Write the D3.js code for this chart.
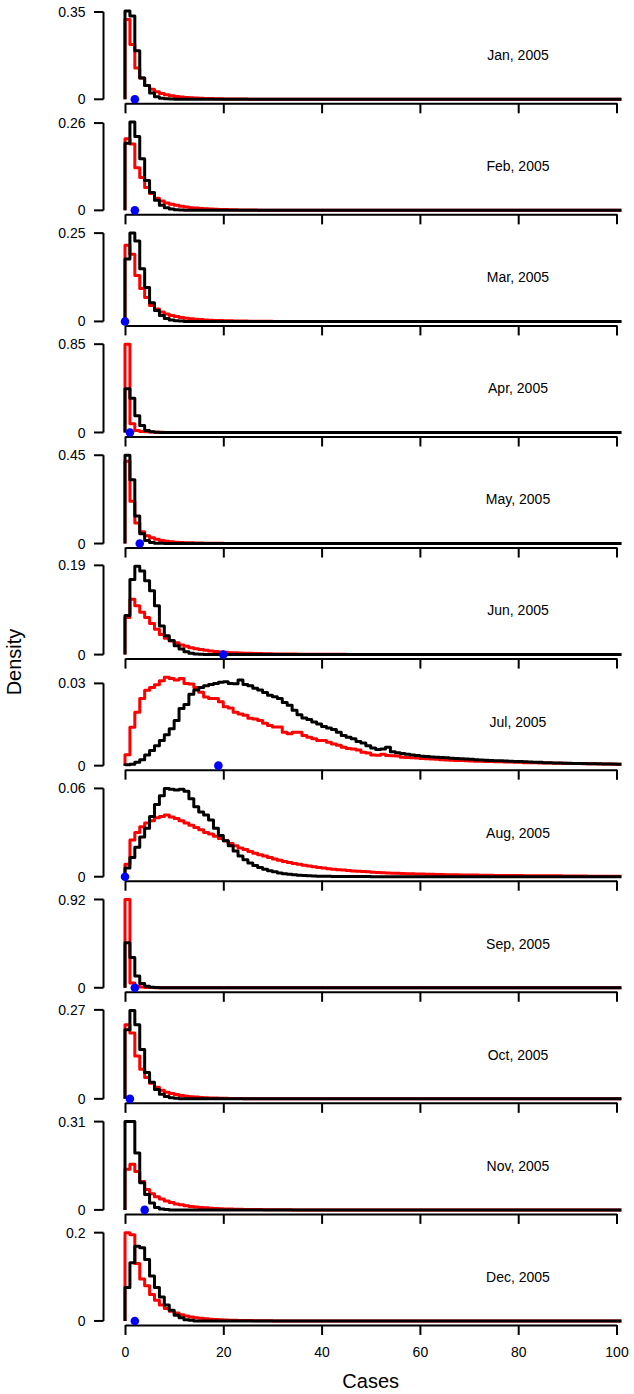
<!DOCTYPE html>
<html>
<head>
<meta charset="utf-8">
<script src="https://cdnjs.cloudflare.com/ajax/libs/d3/7.8.5/d3.min.js"></script>
<style>
  body { margin: 0; background: #fff; }
  svg text { font-family: "Liberation Sans", Arial, sans-serif; fill: #000; }
</style>
</head>
<body>
<div id="chart"></div>
<script>
var months = ["Jan, 2005", "Feb, 2005", "Mar, 2005", "Apr, 2005", "May, 2005", "Jun, 2005",
              "Jul, 2005", "Aug, 2005", "Sep, 2005", "Oct, 2005", "Nov, 2005", "Dec, 2005"];
var yTickLabels = ["0.35", "0.26", "0.25", "0.85", "0.45", "0.19", "0.03", "0.06", "0.92", "0.27", "0.31", "0.2"];
var xTicks = [0, 20, 40, 60, 80, 100];
// observed case count (blue dot)
var observed = [2, 2, 0, 1, 3, 20, 19, 0, 2, 1, 4, 2];

// density per case count, starting at 0 cases; missing bins are zero
var janBlack = [0.354, 0.334, 0.195, 0.085, 0.055, 0.025, 0.01, 0.004, 0.002, 0.001];
var janRed = [0.32, 0.22, 0.125, 0.085, 0.055, 0.04, 0.03, 0.023, 0.018, 0.014, 0.011, 0.009, 0.007, 0.006, 0.005,
              0.004, 0.0035, 0.003, 0.0025, 0.002, 0.0017, 0.0014, 0.0012, 0.001, 0.0008, 0.0007, 0.0006, 0.0005, 0.0004, 0.0003];
var febBlack = [0.2, 0.263, 0.22, 0.154, 0.089, 0.053, 0.03, 0.015, 0.008, 0.004, 0.002, 0.001];
var febRed = [0.213, 0.198, 0.127, 0.098, 0.068, 0.05, 0.036, 0.028, 0.022, 0.018, 0.015, 0.012, 0.01, 0.008, 0.0068, 0.0057,
              0.0048, 0.004, 0.0034, 0.0029, 0.0024, 0.002, 0.0017, 0.0014, 0.0012, 0.001, 0.0008, 0.0007, 0.0006, 0.0005, 0.0004, 0.0003];
var marBlack = [0.177, 0.25, 0.228, 0.149, 0.096, 0.053, 0.031, 0.017, 0.008, 0.004, 0.002, 0.001];
var marRed = [0.216, 0.19, 0.13, 0.093, 0.068, 0.045, 0.035, 0.027, 0.021, 0.017, 0.014, 0.011, 0.009, 0.0075, 0.0062,
              0.0051, 0.0042, 0.0035, 0.0029, 0.0024, 0.002, 0.0016, 0.0013, 0.0011, 0.0009, 0.0007, 0.0006, 0.0005, 0.0004, 0.0003];
var aprBlack = [0.42, 0.33, 0.16, 0.067, 0.02, 0.008, 0.003, 0.001];
var aprRed = [0.85, 0.083, 0.02, 0.01, 0.006, 0.004, 0.0025, 0.0015, 0.001, 0.0006, 0.0003];
var mayBlack = [0.45, 0.325, 0.14, 0.05, 0.015, 0.005, 0.002, 0.001];
var mayRed = [0.42, 0.215, 0.105, 0.06, 0.04, 0.03, 0.022, 0.016, 0.012, 0.009, 0.007, 0.0055, 0.0045, 0.0036, 0.0029,
              0.0023, 0.0018, 0.0014, 0.0011, 0.0009, 0.0007, 0.0005, 0.0004, 0.0003];
var junBlack = [0.083, 0.16, 0.188, 0.178, 0.157, 0.136, 0.104, 0.061, 0.04, 0.03, 0.019, 0.012, 0.006, 0.003, 0.0015, 0.0007];
var junRed = [0.079, 0.118, 0.104, 0.09, 0.079, 0.066, 0.054, 0.043, 0.035, 0.029, 0.025, 0.0205, 0.0177, 0.0148, 0.0127,
              0.0106, 0.0092, 0.0078, 0.0064, 0.0057, 0.005, 0.0042, 0.0038, 0.0034, 0.003, 0.0027, 0.0024, 0.0021, 0.0019,
              0.0017, 0.0015, 0.0014, 0.0013, 0.0012, 0.0011, 0.001, 0.0009, 0.0008, 0.0008, 0.0007, 0.0007, 0.0006, 0.0006,
              0.0005, 0.0005, 0.0004, 0.0004, 0.0004, 0.0003, 0.0003, 0.0003, 0.0003, 0.0002, 0.0002, 0.0002, 0.0002, 0.0002,
              0.0001, 0.0001, 0.0001];
var julBlack = [0.0003, 0.0005, 0.0012, 0.0022, 0.0039, 0.0055, 0.0073, 0.0092, 0.0113, 0.0135,
                0.0165, 0.0208, 0.0223, 0.026, 0.0276, 0.0285, 0.0291, 0.0296, 0.03, 0.0304,
                0.0306, 0.03, 0.0299, 0.0312, 0.0296, 0.0291, 0.0282, 0.0276, 0.0267, 0.0257,
                0.0251, 0.0245, 0.023, 0.022, 0.0202, 0.0186, 0.0174, 0.0168, 0.0159, 0.0152,
                0.0143, 0.0137, 0.0132, 0.0122, 0.011, 0.0104, 0.0098, 0.0088, 0.0083, 0.0073,
                0.0064, 0.0059, 0.0061, 0.0067, 0.0051, 0.0047, 0.0044, 0.0042, 0.0039, 0.0037,
                0.0034, 0.0033, 0.0032, 0.0031, 0.003, 0.0029, 0.0027, 0.0026, 0.0025, 0.0024,
                0.0023, 0.0022, 0.0021, 0.002, 0.0019, 0.0018, 0.0018, 0.0017, 0.0016, 0.0015,
                0.0015, 0.0014, 0.0013, 0.0012, 0.0012, 0.0011, 0.0011, 0.001, 0.001, 0.0009,
                0.0009, 0.0008, 0.0008, 0.0008, 0.0007, 0.0007, 0.0007, 0.0006, 0.0006, 0.0006, 0.0005];
var julRed = [0.004, 0.014, 0.0195, 0.0245, 0.0275, 0.0285, 0.0295, 0.031, 0.0322, 0.0318,
              0.0312, 0.0318, 0.030, 0.0298, 0.0285, 0.0268, 0.025, 0.0245, 0.0245, 0.0233,
              0.0215, 0.021, 0.0195, 0.0188, 0.0184, 0.0173, 0.017, 0.0165, 0.0155, 0.0146,
              0.0141, 0.0141, 0.0122, 0.0116, 0.0122, 0.0122, 0.011, 0.0104, 0.0098, 0.0092,
              0.0092, 0.0085, 0.0079, 0.0074, 0.0067, 0.0063, 0.0061, 0.0057, 0.0049, 0.0046,
              0.0039, 0.0038, 0.0042, 0.0037, 0.0036, 0.0035, 0.0031, 0.003, 0.0029, 0.0028,
              0.0026, 0.0025, 0.0024, 0.0023, 0.0022, 0.0021, 0.002, 0.0019, 0.0019, 0.0018,
              0.0017, 0.0016, 0.0016, 0.0015, 0.0015, 0.0014, 0.0014, 0.0013, 0.0013, 0.0012,
              0.0012, 0.0011, 0.0011, 0.0011, 0.001, 0.001, 0.001, 0.0009, 0.0009, 0.0009,
              0.0008, 0.0008, 0.0008, 0.0007, 0.0007, 0.0007, 0.0006, 0.0006, 0.0006, 0.0005, 0.0005];
var augBlack = [0.006, 0.013, 0.02, 0.027, 0.033, 0.041, 0.049, 0.055, 0.06, 0.0595,
                0.059, 0.0595, 0.058, 0.053, 0.0475, 0.044, 0.042, 0.0385, 0.033, 0.028,
                0.0245, 0.021, 0.0175, 0.014, 0.0115, 0.0093, 0.0077, 0.0063, 0.0051, 0.0041,
                0.0033, 0.0026, 0.002, 0.0016, 0.0013, 0.001, 0.0008, 0.0006, 0.0005, 0.0004,
                0.0003, 0.0003, 0.0002, 0.0002, 0.0002, 0.0001, 0.0001, 0.0001, 0.0001, 0.0001];
var augRed = [0.0085, 0.025, 0.030, 0.034, 0.0365, 0.038, 0.040, 0.041, 0.042, 0.0405,
              0.0395, 0.038, 0.0365, 0.035, 0.0335, 0.032, 0.030, 0.029, 0.0275, 0.026,
              0.0245, 0.0225, 0.021, 0.0195, 0.0185, 0.0172, 0.016, 0.015, 0.014, 0.013,
              0.012, 0.0112, 0.0104, 0.0097, 0.009, 0.0084, 0.0078, 0.0073, 0.0068, 0.0063,
              0.0059, 0.0055, 0.0051, 0.0048, 0.0045, 0.0042, 0.0039, 0.0037, 0.0035, 0.0033,
              0.0031, 0.0029, 0.0027, 0.0026, 0.0024, 0.0023, 0.0022, 0.0021, 0.002, 0.0019,
              0.0018, 0.0017, 0.0016, 0.0015, 0.0015, 0.0014, 0.0013, 0.0013, 0.0012, 0.0012,
              0.0011, 0.0011, 0.001, 0.001, 0.001, 0.0009, 0.0009, 0.0009, 0.0008, 0.0008,
              0.0008, 0.0007, 0.0007, 0.0007, 0.0007, 0.0006, 0.0006, 0.0006, 0.0006, 0.0005,
              0.0005, 0.0005, 0.0005, 0.0005, 0.0004, 0.0004, 0.0004, 0.0004, 0.0004, 0.0004, 0.0003];
var sepBlack = [0.47, 0.316, 0.123, 0.045, 0.015, 0.006, 0.002, 0.001];
var sepRed = [0.92, 0.05, 0.015, 0.007, 0.004, 0.002, 0.001];
var octBlack = [0.21, 0.268, 0.225, 0.15, 0.08, 0.05, 0.028, 0.014, 0.007, 0.003, 0.0015];
var octRed = [0.225, 0.2, 0.13, 0.09, 0.065, 0.047, 0.035, 0.026, 0.02, 0.016, 0.013, 0.01, 0.008, 0.0065, 0.0053,
              0.0043, 0.0035, 0.0028, 0.0023, 0.0019, 0.0015, 0.0012, 0.001, 0.0008, 0.0006, 0.0005, 0.0004, 0.0003];
var novBlack = [0.31, 0.31, 0.2, 0.095, 0.054, 0.024, 0.008, 0.003, 0.001];
var novRed = [0.143, 0.16, 0.135, 0.1, 0.072, 0.057, 0.046, 0.038, 0.031, 0.026, 0.021, 0.018, 0.015, 0.012, 0.01,
              0.0085, 0.0072, 0.006, 0.005, 0.0042, 0.0035, 0.003, 0.0025, 0.002, 0.0017, 0.0014, 0.0012, 0.001,
              0.0008, 0.0007, 0.0006, 0.0005, 0.0004, 0.0003];
var decBlack = [0.076, 0.132, 0.169, 0.166, 0.139, 0.102, 0.076, 0.054, 0.036, 0.024, 0.013, 0.007, 0.003, 0.0015];
var decRed = [0.2, 0.195, 0.13, 0.095, 0.08, 0.06, 0.047, 0.036, 0.028, 0.022, 0.018, 0.014, 0.011, 0.009, 0.007,
              0.006, 0.005, 0.004, 0.0033, 0.0027, 0.0022, 0.0018, 0.0015, 0.0012, 0.001, 0.0008, 0.0006, 0.0005, 0.0004, 0.0003];

var blackSeries = [janBlack, febBlack, marBlack, aprBlack, mayBlack, junBlack,
                   julBlack, augBlack, sepBlack, octBlack, novBlack, decBlack];
var redSeries = [janRed, febRed, marRed, aprRed, mayRed, junRed,
                 julRed, augRed, sepRed, octRed, novRed, decRed];

var width = 634, height = 1394;
var firstZero = 99.3,     // y of zero line in first panel
    panelStep = 111.06,   // distance between panels
    dataHeight = 88.3,    // pixels from 0 to data max
    yAxisX = 103.5;

var x = d3.scaleLinear().domain([0, 100]).range([125, 616.5]);

var svg = d3.select("#chart").append("svg")
    .attr("width", width)
    .attr("height", height);

// step line: vertical up at 0, then one flat step per case count up to 101
function stepPoints(values) {
  var pts = [[0, 0]];
  for (var k = 0; k <= 100; k++) {
    pts.push([k, k < values.length ? values[k] : 0]);
  }
  pts.push([101, pts[pts.length - 1][1]]);
  return pts;
}

function drawPanel(i) {
  var zeroY = firstZero + i * panelStep;
  var ymax = d3.max(blackSeries[i].concat(redSeries[i]));
  var tickVal = +yTickLabels[i];
  var y = d3.scaleLinear().domain([0, ymax]).range([zeroY, zeroY - dataHeight]);

  var g = svg.append("g").attr("class", "panel");

  // y axis: line only between the two ticks
  g.append("line")
    .attr("x1", yAxisX).attr("x2", yAxisX)
    .attr("y1", y(0)).attr("y2", y(tickVal))
    .style("stroke", "#000").style("stroke-width", 2);
  [0, tickVal].forEach(function (t, j) {
    g.append("line")
      .attr("x1", yAxisX - 9.5).attr("x2", yAxisX)
      .attr("y1", y(t)).attr("y2", y(t))
      .style("stroke", "#000").style("stroke-width", 2);
    g.append("text")
      .attr("x", yAxisX - 18)
      .attr("y", y(t))
      .attr("dy", "0.36em")
      .attr("text-anchor", "end")
      .style("font-size", "14px")
      .text(j == 0 ? "0" : yTickLabels[i]);
  });

  // x axis under each panel, labels only on the last one
  var xAxis = d3.axisBottom(x)
    .tickValues(xTicks)
    .tickSize(10)
    .tickSizeOuter(0)
    .tickPadding(12)
    .tickFormat(i == months.length - 1 ? d3.format("d") : "");
  var ax = g.append("g")
    .attr("transform", "translate(0," + (zeroY + 4) + ")")
    .call(xAxis);
  ax.select(".domain").style("stroke-width", 2);
  ax.selectAll(".tick line").style("stroke-width", 2);
  ax.selectAll(".tick text")
    .style("font-size", "14px")
    .style("font-family", '"Liberation Sans", Arial, sans-serif');

  var line = d3.line()
    .curve(d3.curveStepAfter)
    .x(function (d) { return x(d[0]); })
    .y(function (d) { return y(d[1]); });

  g.append("path")
    .datum(stepPoints(redSeries[i]))
    .attr("d", line)
    .style("fill", "none")
    .style("stroke", "#ff0000")
    .style("stroke-width", 3)
    .style("stroke-linejoin", "round");

  g.append("path")
    .datum(stepPoints(blackSeries[i]))
    .attr("d", line)
    .style("fill", "none")
    .style("stroke", "#000")
    .style("stroke-width", 3)
    .style("stroke-linejoin", "round");

  g.append("circle")
    .attr("cx", x(observed[i]))
    .attr("cy", y(0))
    .attr("r", 4.3)
    .style("fill", "#0000ff");

  g.append("text")
    .attr("x", 518)
    .attr("y", (y(0) + y(ymax)) / 2)
    .attr("dy", "0.36em")
    .attr("text-anchor", "middle")
    .style("font-size", "14px")
    .text(months[i]);
}

for (var i = 0; i < months.length; i++) {
  drawPanel(i);
}

svg.append("text")
  .attr("x", 370.7)
  .attr("y", 1381)
  .attr("dy", "0.36em")
  .attr("text-anchor", "middle")
  .style("font-size", "20px")
  .text("Cases");

svg.append("text")
  .attr("transform", "translate(14,662) rotate(-90)")
  .attr("dy", "0.36em")
  .attr("text-anchor", "middle")
  .style("font-size", "20px")
  .text("Density");
</script>
</body>
</html>
